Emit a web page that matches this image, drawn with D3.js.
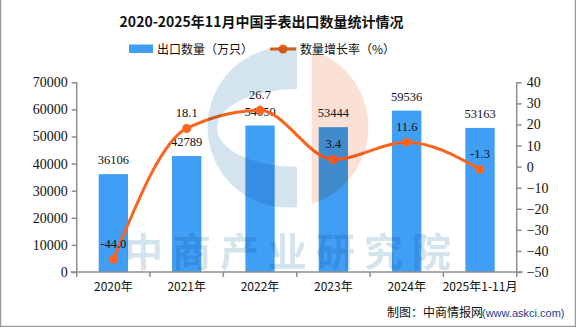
<!DOCTYPE html>
<html>
<head>
<meta charset="utf-8">
<script src="https://cdn.jsdelivr.net/npm/d3@7"></script>
<style>
html,body{margin:0;padding:0;background:#fff;}
svg{display:block;}
</style>
</head>
<body>
<svg id="chart" width="576" height="327"></svg>
<script>
const categories = ["2020年","2021年","2022年","2023年","2024年","2025年1-11月"];
const exportQty = [36106, 42789, 54050, 53444, 59536, 53163];
const growthRate = [-44.0, 18.1, 26.7, 3.4, 11.6, -1.3];
const leftTicks = [0,10000,20000,30000,40000,50000,60000,70000];
const rightTicks = [-50,-40,-30,-20,-10,0,10,20,30,40];
const titleText = "2020-2025年11月中国手表出口数量统计情况";
const legendBar = "出口数量（万只）";
const legendLine = "数量增长率（%）";
const sourceText = "制图：中商情报网";
const sourceUrl = "(www.askci.com)";
const watermarkText = "中商产业研究院";

(function(){
const svg = d3.select("#chart");
const W = 576, H = 327;
const pL = 76.7, pR = 516.7, pT = 82.3, pB = 272;
const BAR = "#409ef4", LINE = "#fa641e", AX = "#8c8c8c";
const numFont = "'Liberation Serif', 'DejaVu Serif', serif";
const cjkFont = "'Noto Sans CJK SC', 'Noto Sans', sans-serif";

// frame
svg.append("path").attr("d", `M0.5,0 V${H-0.5} H${W-0.5} V0`).attr("fill","none").attr("stroke","#9a9a9a").attr("stroke-width",1.5);

const x = d3.scaleBand().domain(categories).range([pL, pR]).padding(0);
const yL = d3.scaleLinear().domain([0, 70000]).range([pB, pT]);
const yR = d3.scaleLinear().domain([-50, 40]).range([pB, pT]);

// title
svg.append("text").attr("x", 261.5).attr("y", 27).attr("text-anchor","middle")
  .attr("font-family", cjkFont).attr("font-weight", 700).attr("font-size", 14).attr("fill","#111")
  .text(titleText);

// legend
svg.append("rect").attr("x",129).attr("y",44.5).attr("width",24).attr("height",8.5).attr("fill",BAR);
svg.append("text").attr("x",157).attr("y",53.5).attr("font-family",cjkFont).attr("font-size",12).attr("fill","#111").text(legendBar);
svg.append("line").attr("x1",270).attr("x2",296).attr("y1",49).attr("y2",49).attr("stroke",LINE).attr("stroke-width",3);
svg.append("circle").attr("cx",283).attr("cy",49).attr("r",4.5).attr("fill",LINE);
svg.append("text").attr("x",300).attr("y",53.5).attr("font-family",cjkFont).attr("font-size",12).attr("fill","#111").text(legendLine);

// left axis
const gL = svg.append("g").attr("transform",`translate(${pL},0)`)
  .call(d3.axisLeft(yL).tickValues(leftTicks).tickSize(5).tickPadding(4).tickFormat(d3.format("d")));
gL.select(".domain").attr("stroke",AX).attr("stroke-width",1.5).attr("d",`M0,${pT}V${pB}`);
gL.selectAll(".tick line").attr("stroke",AX).attr("stroke-width",1.5);
gL.selectAll(".tick text").attr("font-family",numFont).attr("font-size",14).attr("fill","#111");

// right axis
const gR = svg.append("g").attr("transform",`translate(${pR},0)`)
  .call(d3.axisRight(yR).tickValues(rightTicks).tickSize(5).tickPadding(5));
gR.select(".domain").attr("stroke",AX).attr("stroke-width",1.5).attr("d",`M0,${pT}V${pB}`);
gR.selectAll(".tick line").attr("stroke",AX).attr("stroke-width",1.5);
gR.selectAll(".tick text").attr("font-family",numFont).attr("font-size",14).attr("fill","#111");

// bars
const bw = x.bandwidth()*0.4;
svg.append("g").selectAll("rect").data(exportQty).join("rect")
  .attr("x",(d,i)=>x(categories[i])+x.bandwidth()/2-bw/2)
  .attr("y",d=>yL(d)).attr("width",bw).attr("height",d=>pB-yL(d)).attr("fill",BAR);

// x axis
const gX = svg.append("g").attr("transform",`translate(0,${pB})`);
gX.append("line").attr("x1",pL-6).attr("x2",pR+6).attr("y1",0).attr("y2",0).attr("stroke",AX).attr("stroke-width",1.5);
const bounds = categories.map(c=>x(c)).concat([pR]);
gX.selectAll("line.t").data(bounds).join("line").attr("class","t")
  .attr("x1",d=>d).attr("x2",d=>d).attr("y1",0).attr("y2",5).attr("stroke",AX).attr("stroke-width",1.5);
gX.selectAll("text").data(categories).join("text")
  .attr("x",d=>x(d)+x.bandwidth()/2).attr("y",18.5).attr("text-anchor","middle")
  .attr("font-family",cjkFont).attr("font-size",12).attr("fill","#111").text(d=>d);

// bar labels
svg.append("g").selectAll("text").data(exportQty).join("text")
  .attr("x",(d,i)=>x(categories[i])+x.bandwidth()/2).attr("y",d=>yL(d)-10)
  .attr("text-anchor","middle").attr("font-family",numFont).attr("font-size",12.5).attr("fill","#111")
  .text(d=>d);

// line
const cx = (i)=>x(categories[i])+x.bandwidth()/2;
const line = d3.line().x((d,i)=>cx(i)).y(d=>yR(d)).curve(d3.curveMonotoneX);
svg.append("path").datum(growthRate).attr("d",line).attr("fill","none").attr("stroke",LINE).attr("stroke-width",3);
svg.append("g").selectAll("circle").data(growthRate).join("circle")
  .attr("cx",(d,i)=>cx(i)).attr("cy",d=>yR(d)).attr("r",4.5).attr("fill",LINE);
svg.append("g").selectAll("text").data(growthRate).join("text")
  .attr("x",(d,i)=>cx(i)).attr("y",d=>yR(d)-11)
  .attr("text-anchor","middle").attr("font-family",numFont).attr("font-size",12.5).attr("fill","#111")
  .text(d=>d.toFixed(1));

// source
svg.append("text").attr("x",387).attr("y",317).attr("font-family",cjkFont).attr("font-size",12).attr("fill","#111").text(sourceText);
svg.append("text").attr("x",482).attr("y",317).attr("font-family","'Liberation Sans', Arial, sans-serif").attr("font-size",11).attr("fill","#1c3d8f").text(sourceUrl);

// watermark (multiply overlay)
const defs = svg.append("defs");
defs.append("clipPath").attr("id","cCircle").append("circle").attr("cx",288).attr("cy",127).attr("r",80.5);
defs.append("clipPath").attr("id","cLeft").append("rect").attr("x",200).attr("y",40).attr("width",97).attr("height",180);
defs.append("clipPath").attr("id","cRight").append("rect").attr("x",311.7).attr("y",40).attr("width",70).attr("height",180);
const wm = svg.append("g").style("mix-blend-mode","multiply");
wm.append("g").attr("clip-path","url(#cLeft)").append("g").attr("clip-path","url(#cCircle)")
  .append("path").attr("fill-rule","evenodd").attr("fill","#d3e4ef")
  .attr("d", "M200,40H300V220H200Z " +
       "M217,128 A80,39 0 1,0 377,128 A80,39 0 1,0 217,128Z");
wm.append("g").attr("clip-path","url(#cRight)").append("g").attr("clip-path","url(#cCircle)")
  .append("rect").attr("x",300).attr("y",40).attr("width",80).attr("height",180).attr("fill","#fbe1d5");
wm.append("text").attr("x",292).attr("y",266).attr("text-anchor","middle")
  .attr("font-family",cjkFont).attr("font-weight",700).attr("font-size",39)
  .attr("letter-spacing",9).attr("fill","#d3e4ef").text(watermarkText);
})();
</script>
</body>
</html>
